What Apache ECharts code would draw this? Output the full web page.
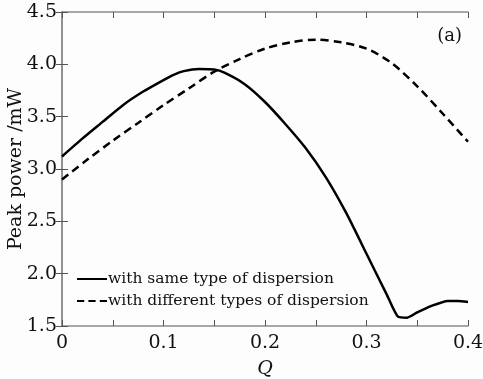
<!DOCTYPE html>
<html>
<head>
<meta charset="utf-8">
<script src="https://cdn.jsdelivr.net/npm/echarts@6/dist/echarts.min.js"></script>
<style>
  html, body { margin: 0; padding: 0; background: #fdfdfd; }
  #chart { width: 483px; height: 379px; }
</style>
</head>
<body>
<div id="chart"></div>
<script>
  // Q values and peak power (mW)
  var qSame = [0, 0.02, 0.04, 0.06, 0.08, 0.1, 0.11, 0.12, 0.135, 0.15, 0.16, 0.18, 0.2, 0.22, 0.24, 0.26, 0.28, 0.3, 0.32, 0.331, 0.34, 0.35, 0.3635, 0.38, 0.39, 0.4];
  var pSame = [3.12, 3.29, 3.45, 3.61, 3.74, 3.85, 3.90, 3.935, 3.955, 3.95, 3.92, 3.81, 3.64, 3.43, 3.20, 2.92, 2.58, 2.19, 1.80, 1.59, 1.58, 1.63, 1.69, 1.74, 1.74, 1.73];
  var qDiff = [0, 0.025, 0.05, 0.075, 0.1, 0.125, 0.15, 0.175, 0.2, 0.225, 0.25, 0.275, 0.3, 0.325, 0.35, 0.375, 0.4];
  var pDiff = [2.90, 3.09, 3.27, 3.44, 3.61, 3.77, 3.93, 4.05, 4.15, 4.21, 4.235, 4.21, 4.15, 4.01, 3.79, 3.53, 3.26];
  var seriesNames = ['with same type of dispersion', 'with different types of dispersion'];

  function pairs(xs, ys) {
    var out = [];
    for (var i = 0; i < xs.length; i++) out.push([xs[i], ys[i]]);
    return out;
  }

  var font = 'DejaVu Serif';
  var axisGrey = '#8a8a8a';
  var tick = { show: true, inside: true, length: 6, lineStyle: { color: '#555', width: 1 } };
  var minor = { show: true, splitNumber: 2, length: 6, lineStyle: { color: '#555', width: 1 } };
  var chart = echarts.init(document.getElementById('chart'));

  var option = {
    backgroundColor: '#fdfdfd',
    animation: false,
    grid: { left: 62, right: 15, top: 12, bottom: 53, containLabel: false, outerBoundsMode: 'none' },
    title: {
      text: '(a)', right: 16, top: 22,
      textStyle: { fontFamily: font, fontSize: 18, fontWeight: 'normal', color: '#111' }
    },
    legend: {
      left: 72, top: 266, orient: 'vertical', itemGap: 6,
      itemWidth: 30, itemHeight: 14,
      textStyle: { fontFamily: font, fontSize: 15.5, color: '#111', padding: [0, 0, 0, -4] },
      data: [
        { name: seriesNames[0], icon: 'path://M0,6 L30,6 L30,8 L0,8 Z' },
        { name: seriesNames[1], icon: 'path://M0,6 L7,6 L7,8 L0,8 Z M11,6 L18,6 L18,8 L11,8 Z M22,6 L29,6 L29,8 L22,8 Z' }
      ],
      itemStyle: { color: '#000' }
    },
    xAxis: [{
      type: 'value', min: 0, max: 0.4, interval: 0.1,
      name: 'Q', nameLocation: 'middle', nameGap: 34, nameMoveOverlap: false,
      nameTextStyle: { fontFamily: font, fontSize: 19, fontStyle: 'italic', color: '#111' },
      axisLine: { lineStyle: { color: axisGrey, width: 1.5 } },
      axisTick: tick,
      minorTick: minor,
      axisLabel: {
        fontFamily: font, fontSize: 19, color: '#111', margin: 8,
        formatter: function (v) { return v === 0 ? '0' : v.toFixed(1); }
      },
      splitLine: { show: false }
    }, {
      type: 'value', min: 0, max: 0.4, interval: 0.1, position: 'top',
      axisLine: { show: true, lineStyle: { color: axisGrey, width: 1.5 } },
      axisTick: tick,
      minorTick: minor,
      axisLabel: { show: false },
      splitLine: { show: false }
    }],
    yAxis: [{
      type: 'value', min: 1.5, max: 4.5, interval: 0.5,
      name: 'Peak power /mW', nameLocation: 'middle', nameGap: 36, nameMoveOverlap: false,
      nameTextStyle: { fontFamily: font, fontSize: 19, color: '#111' },
      axisLine: { show: true, lineStyle: { color: axisGrey, width: 1.5 } },
      axisTick: tick,
      axisLabel: {
        fontFamily: font, fontSize: 19, color: '#111', margin: 5,
        formatter: function (v) { return v.toFixed(1); }
      },
      splitLine: { show: false }
    }, {
      type: 'value', min: 1.5, max: 4.5, interval: 0.5, position: 'right',
      axisLine: { show: true, lineStyle: { color: axisGrey, width: 1.5 } },
      axisTick: tick,
      axisLabel: { show: false },
      splitLine: { show: false }
    }],
    series: [{
      name: seriesNames[0], type: 'line', smooth: 0.2, showSymbol: false,
      lineStyle: { color: '#000', width: 2.5 },
      itemStyle: { color: '#000' },
      data: pairs(qSame, pSame)
    }, {
      name: seriesNames[1], type: 'line', smooth: 0.3, showSymbol: false,
      lineStyle: { color: '#000', width: 2.5, type: [8, 5] },
      itemStyle: { color: '#000' },
      data: pairs(qDiff, pDiff)
    }]
  };
  chart.setOption(option);
</script>
</body>
</html>
